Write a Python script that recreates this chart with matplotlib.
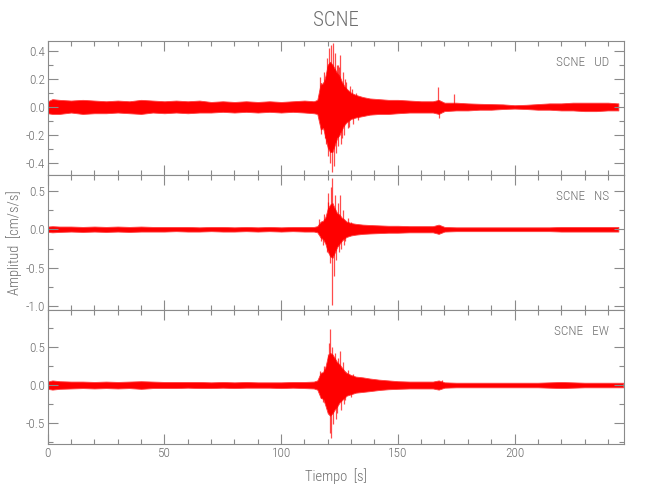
import matplotlib
matplotlib.use('Agg')
import matplotlib.pyplot as plt
from matplotlib.ticker import MultipleLocator, FormatStrFormatter

nan = float('nan')

station = "SCNE"
components = ["UD", "NS", "EW"]
x_ticks = [0, 50, 100, 150, 200]
y_limits = [(-0.483, 0.471), (-1.04, 0.703), (-0.77, 0.986)]
y_major = [0.2, 0.5, 0.5]
y_minor = [0.1, 0.25, 0.25]
x_limits = (0, 246.7)

# envelope knots (s)
t_env = [0, 2, 5, 10, 15, 20, 25, 30, 35, 40,
         45, 50, 55, 60, 65, 70, 75, 80, 85, 90,
         95, 100, 105, 110, 114, 115.5, 117, 118, 119, 120,
         121, 122, 123, 124, 125, 126, 127, 128, 130, 132,
         135, 138, 142, 146, 150, 155, 160, 165, 167.5, 170,
         175, 180, 185, 190, 195, 200, 205, 210, 215, 220,
         225, 230, 235, 240, 244.5, 246.6]

ud_upper = [0.04, 0.055, 0.05, 0.045, 0.05, 0.045, 0.04, 0.045, 0.04, 0.05,
            0.045, 0.04, 0.045, 0.04, 0.045, 0.035, 0.04, 0.035, 0.04, 0.035,
            0.04, 0.035, 0.04, 0.045, 0.04, 0.05, 0.17, 0.16, 0.22, 0.3,
            0.32, 0.3, 0.27, 0.24, 0.22, 0.18, 0.15, 0.13, 0.1, 0.085,
            0.07, 0.06, 0.055, 0.05, 0.05, 0.045, 0.04, 0.04, 0.05, 0.03,
            0.03, 0.025, 0.022, 0.02, 0.018, 0.012, 0.015, 0.02, 0.025, 0.025,
            0.03, 0.03, 0.03, 0.03, 0.025, nan]
ud_lower = [-0.045, -0.05, -0.05, -0.04, -0.05, -0.045, -0.045, -0.04, -0.045, -0.05,
            -0.04, -0.045, -0.04, -0.045, -0.04, -0.04, -0.035, -0.04, -0.035, -0.04,
            -0.035, -0.04, -0.035, -0.04, -0.045, -0.05, -0.16, -0.15, -0.22, -0.29,
            -0.32, -0.32, -0.27, -0.22, -0.2, -0.16, -0.13, -0.11, -0.085, -0.075,
            -0.065, -0.055, -0.05, -0.05, -0.045, -0.04, -0.04, -0.04, -0.05, -0.03,
            -0.025, -0.025, -0.02, -0.02, -0.015, -0.012, -0.015, -0.02, -0.02, -0.025,
            -0.025, -0.03, -0.03, -0.025, -0.025, nan]

ns_upper = [0.035, 0.04, 0.035, 0.035, 0.03, 0.035, 0.03, 0.035, 0.03, 0.035,
            0.03, 0.03, 0.03, 0.03, 0.025, 0.03, 0.03, 0.025, 0.03, 0.025,
            0.03, 0.025, 0.03, 0.03, 0.03, 0.04, 0.1, 0.11, 0.16, 0.27,
            0.32, 0.34, 0.27, 0.21, 0.19, 0.15, 0.13, 0.1, 0.08, 0.07,
            0.06, 0.055, 0.05, 0.045, 0.045, 0.04, 0.04, 0.04, 0.06, 0.03,
            0.025, 0.025, 0.025, 0.025, 0.025, 0.025, 0.025, 0.025, 0.025, 0.03,
            0.03, 0.03, 0.03, 0.03, 0.03, nan]
ns_lower = [-0.035, -0.04, -0.035, -0.03, -0.035, -0.03, -0.035, -0.03, -0.035, -0.03,
            -0.03, -0.03, -0.025, -0.03, -0.03, -0.025, -0.03, -0.03, -0.025, -0.03,
            -0.025, -0.03, -0.025, -0.03, -0.03, -0.04, -0.11, -0.13, -0.19, -0.29,
            -0.35, -0.37, -0.3, -0.23, -0.19, -0.15, -0.12, -0.1, -0.08, -0.07,
            -0.06, -0.055, -0.05, -0.045, -0.045, -0.04, -0.04, -0.04, -0.06, -0.03,
            -0.025, -0.025, -0.025, -0.025, -0.025, -0.025, -0.025, -0.025, -0.025, -0.03,
            -0.03, -0.03, -0.03, -0.03, -0.03, nan]

ew_upper = [0.045, 0.06, 0.05, 0.045, 0.045, 0.04, 0.045, 0.04, 0.045, 0.05,
            0.045, 0.04, 0.04, 0.04, 0.04, 0.035, 0.04, 0.035, 0.04, 0.035,
            0.035, 0.035, 0.04, 0.04, 0.045, 0.06, 0.16, 0.17, 0.24, 0.37,
            0.42, 0.4, 0.35, 0.3, 0.27, 0.23, 0.19, 0.16, 0.13, 0.11,
            0.1, 0.085, 0.07, 0.06, 0.05, 0.045, 0.045, 0.045, 0.06, 0.035,
            0.03, 0.03, 0.03, 0.03, 0.03, 0.03, 0.03, 0.03, 0.035, 0.04,
            0.035, 0.03, 0.03, 0.03, 0.03, 0.03]
ew_lower = [-0.05, -0.06, -0.05, -0.045, -0.04, -0.045, -0.04, -0.045, -0.04, -0.05,
            -0.04, -0.04, -0.04, -0.035, -0.04, -0.04, -0.035, -0.04, -0.035, -0.035,
            -0.035, -0.04, -0.035, -0.04, -0.045, -0.06, -0.17, -0.18, -0.27, -0.37,
            -0.4, -0.37, -0.32, -0.28, -0.23, -0.2, -0.17, -0.14, -0.12, -0.1,
            -0.09, -0.08, -0.065, -0.055, -0.05, -0.045, -0.045, -0.045, -0.06, -0.035,
            -0.03, -0.03, -0.03, -0.03, -0.03, -0.03, -0.03, -0.03, -0.035, -0.04,
            -0.035, -0.03, -0.03, -0.03, -0.03, -0.03]

# individual peaks (time s, amplitude)
ud_spike_t = [116.5, 117, 118, 118.5, 119, 119.3, 119.8, 120, 120.2, 120.5,
              121, 121.5, 122, 122.3, 122.7, 123.2, 123.6, 123.8, 124.2, 124.5,
              125, 125.3, 125.7, 126, 126.5, 127, 127.5, 128, 128.5, 129,
              129.5, 130.5, 131, 132, 133, 167.3, 167.6, 174.2]
ud_spike_v = [0.21, -0.19, 0.18, 0.25, -0.22, -0.26, 0.35, 0.3, -0.35, 0.42,
              -0.4, 0.44, -0.46, 0.45, -0.42, 0.38, -0.33, 0.3, -0.28, 0.3,
              0.28, 0.37, -0.26, -0.22, 0.25, -0.2, 0.2, 0.18, -0.15, -0.14,
              0.15, 0.13, -0.12, 0.1, -0.09, 0.14, -0.08, 0.095]
ns_spike_t = [116.3, 117, 118, 118.5, 119.5, 120, 120.3, 120.8, 121.3, 121.7,
              121.9, 122.5, 123, 123.5, 124.2, 124.8, 125.3, 125.8, 126.5, 127,
              127.5, 128.5, 130]
ns_spike_v = [0.13, -0.15, -0.2, 0.2, -0.3, 0.35, 0.47, -0.44, 0.55, 0.66,
              -0.98, -0.6, 0.45, -0.4, 0.34, -0.3, 0.44, -0.26, 0.25, -0.2,
              -0.15, 0.14, 0.1]
ew_spike_t = [116.5, 117, 118, 118.5, 119.5, 120, 120.4, 120.8, 121, 121.3,
              122, 122.3, 123, 123.5, 124, 124.5, 125.3, 125.7, 126.5, 127,
              127.5, 128.5, 130, 131, 168.9]
ew_spike_v = [0.18, -0.17, -0.22, 0.25, -0.3, 0.4, 0.55, 0.73, -0.63, -0.69,
              0.5, -0.51, 0.42, -0.45, -0.37, 0.35, 0.44, -0.33, 0.3, -0.25,
              -0.2, 0.2, -0.15, 0.15, 0.07]

uppers = [ud_upper, ns_upper, ew_upper]
lowers = [ud_lower, ns_lower, ew_lower]
spike_ts = [ud_spike_t, ns_spike_t, ew_spike_t]
spike_vs = [ud_spike_v, ns_spike_v, ew_spike_v]

FONT = ['Roboto Condensed', 'Roboto', 'DejaVu Sans']
plt.rcParams['font.family'] = FONT
plt.rcParams['font.weight'] = 'light'
plt.rcParams['axes.labelweight'] = 'light'
GRAY = '#6e6e6e'
AXC = '#8a8a8a'

fig = plt.figure(figsize=(6.5, 5.0), dpi=100)
left, right = 47.7 / 650, 623.5 / 650
top_px, bot_px = 40.5, 444.0
h_px = (bot_px - top_px) / 3

axes = []
for i in range(3):
    y0 = 1 - (top_px + (i + 1) * h_px) / 500
    ax = fig.add_axes([left, y0, right - left, h_px / 500])
    axes.append(ax)
    ax.fill_between(t_env, lowers[i], uppers[i], color='#ff0000', lw=0.6,
                    edgecolor='#ff4040')
    ax.vlines(spike_ts[i], 0, spike_vs[i], color='#ff0000', lw=0.9, alpha=0.7)
    ax.set_xlim(*x_limits)
    ax.set_ylim(*y_limits[i])
    ax.set_xticks(x_ticks)
    ax.xaxis.set_minor_locator(MultipleLocator(10))
    ax.yaxis.set_major_locator(MultipleLocator(y_major[i]))
    ax.yaxis.set_minor_locator(MultipleLocator(y_minor[i]))
    ax.yaxis.set_major_formatter(FormatStrFormatter('%.1f'))
    ax.tick_params(which='both', direction='in', top=True, right=True,
                   color=AXC, width=0.8, labelcolor=GRAY, labelsize=9.5, pad=2)
    ax.tick_params(which='major', length=7)
    ax.tick_params(which='minor', length=3.5)
    for s in ax.spines.values():
        s.set_color(AXC)
        s.set_linewidth(0.8)
    if i < 2:
        ax.tick_params(labelbottom=False)
    ax.text(0.975, 0.885, f"{station}   {components[i]}", transform=ax.transAxes,
            ha='right', va='top', color=GRAY, fontsize=9.5, fontweight='light')

axes[2].set_xlabel('Tiempo  [s]', color=GRAY, fontsize=10.5, labelpad=6,
                   fontweight='light')
fig.text(0.022, 1 - (top_px + bot_px) / 2 / 500, 'Amplitud  [cm/s/s]', rotation=90,
         ha='center', va='center', color=GRAY, fontsize=10.5, fontweight='light')
fig.text((left + right) / 2, 1 - 20 / 500, station, ha='center', va='center',
         color=GRAY, fontsize=15, fontweight='light')

fig.savefig('out.png', dpi=100)
